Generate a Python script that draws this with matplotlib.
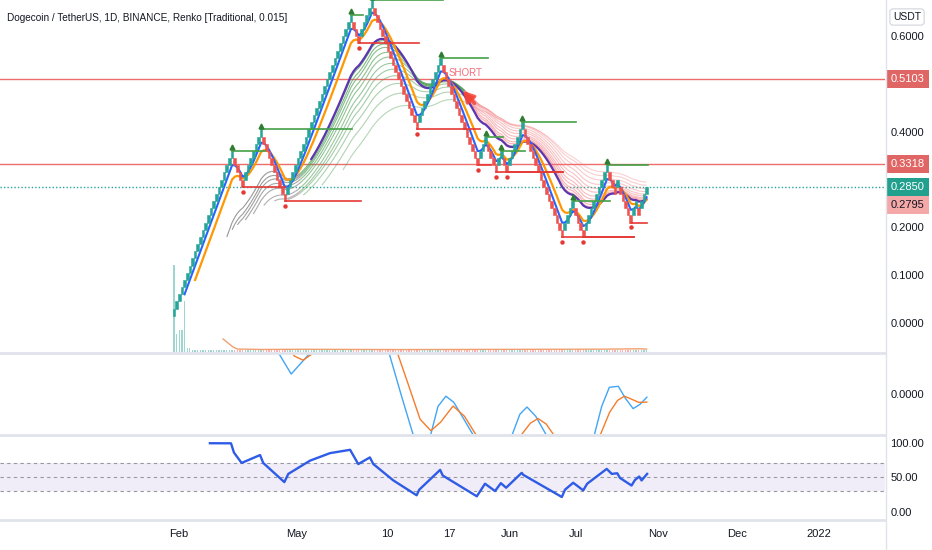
import numpy as np
import matplotlib
matplotlib.use("Agg")
import matplotlib.pyplot as plt
import matplotlib.ticker as ticker
from matplotlib.collections import LineCollection
from matplotlib.lines import Line2D

# ---- datos ----
brick = 0.015
start_level = 1
# rachas de ladrillos renko (+ sube, - baja)
runs = [23, -4, 7, -9, 25, -3, 5, -17, 9, -14, 3, -4, 2, -2, 6, -15, 4, -4, 9, -3, 1, -5, 2, -1, 3]

# volumen por ladrillo (unidades relativas)
vol_head = [87, 18, 22, 22, 51, 4, 4]
vol_tail = 2

# pivotes con lineas horizontales (indice de ladrillo, indice final)
hi_piv = [22, 33, 67, 75, 101, 118, 124, 132, 151, 164]
hi_end = [34.5, 67.4, 71.6, 101.9, 118.9, 124.6, 133, 152.3, 165.2, 179.5]
lo_piv = [26, 42, 70, 92, 115, 122, 126, 147, 155, 173]
lo_end = [42, 70.8, 92.8, 115.9, 120, 147.3, 147.3, 174.2, 174.2, 179]

# niveles horizontales
level_lines = [0.5103, 0.3318]
last_price = 0.2850
other_price = 0.2795

# medias
ema_fast, ema_mid, ema_slow = 5, 9, 20
purple_from = 52
ribbon_lens = [21, 23, 25, 28, 31, 35, 39, 44, 50, 57, 65]
ribbon_green_from = 48
ribbon_pink_from = 110

# linea naranja al pie del panel principal
osc_x = [18.6, 20.5, 22.3, 23.9, 32.6, 47.7, 85.6, 123.5, 161.4, 176.5, 179]
osc_y = [-0.0335, -0.042, -0.050, -0.0544, -0.0554, -0.0550, -0.0556, -0.0552, -0.0548, -0.0540, -0.0546]

# panel medio (lineas azul y naranja)
macd_x = [25, 36.4, 39.9, 44.4, 51.1, 55.3, 75, 81.6, 86, 90.5, 93.2, 95, 97.3, 100, 103, 106,
          110, 113.1, 116, 125.4, 128.2, 131, 133.7, 137, 140.8, 144.3, 155.7, 159.3, 162,
          164.9, 168.3, 171, 173.9, 176.5, 179.1]
macd_v = [0.09, 0.06, 0.0407, 0.0207, 0.0407, 0.07, 0.08, 0.0407, 0.0, -0.040, -0.06, -0.06, -0.040,
          -0.012, -0.0017, -0.008, -0.026, -0.040, -0.07, -0.06, -0.040, -0.020, -0.0127, -0.022,
          -0.040, -0.08, -0.07, -0.040, -0.012, 0.0073, 0.0083, -0.004, -0.0143, -0.010, -0.0027]
sig_x = [30, 42, 45.5, 48.9, 52.3, 55.3, 75, 84.8, 89.4, 93.2, 97.3, 101, 105.7, 110, 114.2, 118,
         129.2, 131.8, 135, 137.9, 141, 143.6, 146.2, 157.6, 161.6, 165, 168, 170.6, 173.5, 176.1, 179.1]
sig_v = [0.09, 0.06, 0.039, 0.0347, 0.041, 0.06, 0.08, 0.0407, 0.005, -0.025, -0.0367, -0.028,
         -0.0117, -0.022, -0.040, -0.06, -0.06, -0.040, -0.029, -0.0243, -0.030, -0.040, -0.06,
         -0.06, -0.040, -0.018, -0.006, -0.0017, -0.005, -0.008, -0.0077]

# RSI
rsi_x = [13.6, 21.6, 22.7, 25.6, 32.6, 33.8, 41.8, 43.3, 51.5, 59.1, 66.7, 69.8, 74.2, 75.5, 83.1,
         91.9, 92.9, 100.8, 101.8, 114.7, 117.8, 121.6, 123.8, 125.8, 131.7, 132.3, 146.9, 148.1,
         151.2, 155, 156.5, 163.9, 165.8, 167.9, 168.9, 173.3, 174.6, 176.2, 177.1, 179.2]
rsi_v = [99.1, 99, 85.7, 70.6, 82, 70.6, 42.9, 54.8, 73.9, 84.8, 89.6, 69, 78.6, 69, 45.3,
         23.9, 32, 60.6, 52.4, 22.4, 40.6, 30, 41.4, 34.8, 56.3, 53.4, 21.4, 32,
         42, 31, 40.6, 62, 54.8, 55.7, 49, 38, 46, 51, 45.3, 54.8]

tick_pos = [1.7, 46.6, 80.9, 104.2, 127.1, 152.1, 183.2, 213.3, 244.3]
tick_lab = ["Feb", "May", "10", "17", "Jun", "Jul", "Nov", "Dec", "2022"]

title = "Dogecoin / TetherUS, 1D, BINANCE, Renko [Traditional, 0.015]"

# ---- ladrillos ----
opens, closes = [], []
lvl, prev_dir, last_open = start_level, 0, start_level
for r in runs:
    d = 1 if r > 0 else -1
    if prev_dir and d != prev_dir:
        lvl = last_open
    for _ in range(abs(r)):
        opens.append(lvl)
        closes.append(lvl + d)
        last_open = lvl
        lvl += d
    prev_dir = d
opens = np.array(opens) * brick
closes = np.array(closes) * brick
n = len(closes)
idx = np.arange(n)
up = closes > opens


def ema(length):
    # media exponencial sembrada con la media simple (como TradingView)
    out = np.full(n, np.nan)
    alpha = 2 / (length + 1)
    out[length - 1] = closes[:length].mean()
    for i in range(length, n):
        out[i] = alpha * closes[i] + (1 - alpha) * out[i - 1]
    return out


plt.rcParams["font.family"] = ["Liberation Sans", "DejaVu Sans"]

TXT = "#131722"
TEAL = "#26a69a"
RED = "#ef5350"

W, H = 932, 550


def box(x0, y0, x1, y1):
    return [x0 / W, 1 - y1 / H, (x1 - x0) / W, (y1 - y0) / H]


fig = plt.figure(figsize=(W / 100, H / 100), dpi=100)
ax = fig.add_axes(box(0, 0, 885, 352))
ax_m = fig.add_axes(box(0, 353, 885, 434))
ax_r = fig.add_axes(box(0, 435, 885, 519))
xlim = (-65.9, 269.3)

# volumen (eje gemelo, sin marcas)
axv = ax.twinx()
axv.set_ylim(0, 352)
axv.axis("off")
vol = vol_head + [vol_tail] * (n - len(vol_head))
axv.bar(idx, vol, width=0.5, color=np.where(up, TEAL, RED), alpha=0.45, linewidth=0)
ax.set_zorder(axv.get_zorder() + 1)
ax.patch.set_visible(False)

for a in (ax, ax_m, ax_r):
    a.set_xlim(*xlim)
    for s in a.spines.values():
        s.set_visible(False)
    a.yaxis.tick_right()
    a.tick_params(axis="y", length=0, pad=4, labelsize=8, labelcolor=TXT)
    a.set_xticks([])

ax.set_ylim(-0.0607, 0.6757)

# niveles
for p in level_lines:
    ax.axhline(p, color="#ef6c6c", lw=1.0, zorder=1)
ax.axhline(last_price, color=TEAL, lw=1.0, ls=(0, (1, 1.5)), zorder=1)

# cinta de medias
for k, L in enumerate(ribbon_lens):
    e = ema(L)
    pts = np.column_stack([idx, e])
    segs = np.stack([pts[:-1], pts[1:]], axis=1)
    fade = 1 - 0.45 * k / (len(ribbon_lens) - 1)
    cols = []
    for i in range(n - 1):
        if i < ribbon_green_from:
            cols.append((0.45, 0.45, 0.45, 0.75 * fade))
        elif i < ribbon_pink_from:
            cols.append((0.30, 0.62, 0.33, 0.75 * fade))
        else:
            cols.append((0.95, 0.45, 0.47, 0.6 * fade))
    ok = ~np.isnan(segs).any(axis=(1, 2))
    lc = LineCollection(segs[ok], colors=np.array(cols)[ok], linewidths=0.8, zorder=2)
    ax.add_collection(lc)

e_slow = ema(ema_slow)
e_slow[:purple_from] = np.nan
ax.plot(idx, e_slow, color="#5e35b1", lw=1.6, zorder=3)
ax.plot(idx, ema(ema_mid), color="#ff9800", lw=1.6, zorder=3)
ax.plot(idx, ema(ema_fast), color="#2962ff", lw=1.5, zorder=4)

# ladrillos
brick_cols = np.where(up, TEAL, RED)
ax.bar(idx, brick, bottom=np.minimum(opens, closes), width=1.0,
       color=brick_cols, edgecolor=brick_cols, linewidth=0.4, zorder=5)

# pivotes
for p, e in zip(hi_piv, hi_end):
    top = max(opens[p], closes[p])
    ax.plot([p, e], [top, top], color="#43a047", lw=1.2, zorder=6)
    ax.plot(p, top + 0.008, marker="^", ms=3.5, color="#2e7d32", zorder=6)
for p, e in zip(lo_piv, lo_end):
    bot = min(opens[p], closes[p])
    ax.plot([p, e], [bot, bot], color="#e53935", lw=1.2, zorder=6)
    ax.plot(p, bot - 0.010, marker="o", ms=2.2, color="#e53935", zorder=6)

ax.plot(osc_x, osc_y, color="#f0a070", lw=1.0, zorder=3)

# senal SHORT
ax.text(110.5, 0.523, "SHORT", color="#f26d7d", fontsize=7, ha="center", va="center", zorder=7)
ax.annotate("", xy=(108.8, 0.4895), xytext=(114.5, 0.455),
            arrowprops=dict(arrowstyle="-|>,head_width=0.35,head_length=0.6",
                            color="#f44336", lw=2.5, alpha=0.85), zorder=7)

# 0.3 y 0.5 quedan tapadas por las etiquetas de precio
ax.set_yticks([0.0, 0.1, 0.2, 0.4, 0.6])
ax.yaxis.set_major_formatter(ticker.FormatStrFormatter("%.4f"))


def price_tag(p, text, fc, tc="white", dy=0.0):
    ax.text(1.0 + 6 / 885, p + dy, text, transform=ax.get_yaxis_transform(), ha="left",
            va="center", color=tc, fontsize=8, clip_on=False, zorder=20,
            bbox=dict(boxstyle="square,pad=0.35", fc=fc, ec="none"))


price_tag(0.5103, "0.5103", "#e06666")
price_tag(0.3318, "0.3318", "#e06666")
price_tag(last_price, "0.2850", "#22a08e")
price_tag(other_price, "0.2795", "#f5a8a8", tc=TXT, dy=-0.032)

fig.text(907 / W, 1 - 17 / H, "USDT", ha="center", va="center", fontsize=7.5, color=TXT,
         bbox=dict(boxstyle="round,pad=0.3,rounding_size=0.3", fc="white", ec="#d1d4dc", lw=0.8))

ax.text(7 / 885, 1 - 18 / 352, title, transform=ax.transAxes, ha="left", va="center",
        fontsize=7.2, color=TXT)

# panel medio
ax_m.set_ylim(-0.040, 0.042)
ax_m.plot(macd_x, macd_v, color="#42a5f5", lw=1.0)
ax_m.plot(sig_x, sig_v, color="#f57c2c", lw=1.0)
ax_m.set_yticks([0.0])
ax_m.yaxis.set_major_formatter(ticker.FormatStrFormatter("%.4f"))

# RSI
ax_r.set_ylim(-10.4, 111)
ax_r.axhspan(30, 70, color="#7e57c2", alpha=0.1, lw=0)
for lv in (70, 50, 30):
    ax_r.axhline(lv, color="#9598a1", lw=0.8, ls=(0, (3, 3)))
ax_r.plot(rsi_x, rsi_v, color="#2f5ce6", lw=1.7)
ax_r.set_yticks([0, 50, 100])
ax_r.yaxis.set_major_formatter(ticker.FormatStrFormatter("%.2f"))
ax_r.set_xticks(tick_pos, tick_lab)
ax_r.tick_params(axis="x", length=0, pad=7, labelsize=8, labelcolor=TXT)

# separadores
sep = "#e0e3eb"
for yp in (352.5, 434.5, 519.5):
    fig.add_artist(Line2D([0, 885 / W], [1 - yp / H] * 2, color=sep, lw=2))
fig.add_artist(Line2D([885.5 / W] * 2, [0, 1], color=sep, lw=1))

fig.savefig("out.png", dpi=100)
